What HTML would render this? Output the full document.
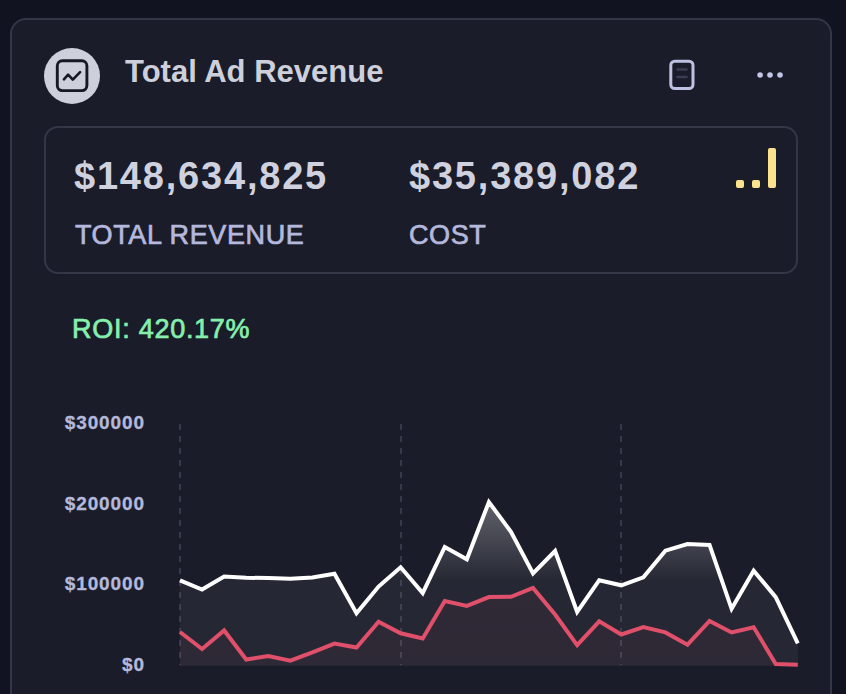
<!DOCTYPE html>
<html><head><meta charset="utf-8">
<style>
html,body{margin:0;padding:0;}
body{width:846px;height:694px;background:#111320;position:relative;overflow:hidden;font-family:"Liberation Sans",sans-serif;}
.card{position:absolute;left:10px;top:18px;width:818px;height:720px;border:2px solid #343648;border-radius:16px;background:#1a1c29;}
.abs{position:absolute;white-space:nowrap;}
.circle{left:44px;top:48px;width:56px;height:56px;border-radius:50%;background:#cdcfda;}
.title{left:125px;top:52px;font-size:31px;font-weight:bold;color:#cdcfdb;line-height:40px;}
.box{left:44px;top:126px;width:750px;height:144px;border:2px solid #343648;border-radius:14px;}
.num{font-size:38px;font-weight:bold;color:#d0d1de;letter-spacing:1.8px;line-height:40px;}
.lbl{font-size:27px;color:#b4b8dc;letter-spacing:0.6px;-webkit-text-stroke:0.7px #b4b8dc;line-height:30px;}
.roi{font-size:27px;letter-spacing:0.73px;-webkit-text-stroke:0.7px #86efac;color:#86efac;line-height:30px;}
.ylab{font-size:19px;font-weight:bold;color:#b4b8da;-webkit-text-stroke:0.3px #b4b8da;text-align:right;width:102px;letter-spacing:0.9px;line-height:20px;}
</style></head><body>
<div class="card"></div>
<div class="abs circle"></div>
<svg class="abs" style="left:44px;top:48px" width="56" height="56" viewBox="0 0 56 56">
<rect x="13.3" y="12.8" width="29.6" height="29.8" rx="5" fill="none" stroke="#161824" stroke-width="2.9"/>
<path d="M19.9 31.3 L24.1 26.7 L28.8 31.6 L36.1 24.1" fill="none" stroke="#161824" stroke-width="2.6" stroke-linecap="round" stroke-linejoin="round"/>
</svg>
<div class="abs title">Total Ad Revenue</div>
<svg class="abs" style="left:655px;top:50px" width="50" height="50" viewBox="0 0 50 50">
<rect x="15.8" y="11.2" width="22.2" height="27.3" rx="4" fill="none" stroke="#bfc1e2" stroke-width="3"/>
<line x1="22.5" y1="19.5" x2="31.5" y2="19.5" stroke="#3a3c52" stroke-width="2.6" stroke-linecap="round"/>
<line x1="22.5" y1="27" x2="31.5" y2="27" stroke="#3a3c52" stroke-width="2.6" stroke-linecap="round"/>
</svg>
<svg class="abs" style="left:745px;top:55px" width="50" height="40">
<circle cx="15.1" cy="20" r="2.8" fill="#c3c6e6"/>
<circle cx="25" cy="20" r="2.8" fill="#c3c6e6"/>
<circle cx="35" cy="20" r="2.8" fill="#c3c6e6"/>
</svg>
<div class="abs box"></div>
<div class="abs num" style="left:74px;top:156px">$148,634,825</div>
<div class="abs num" style="left:409px;top:156px">$35,389,082</div>
<div class="abs lbl" style="left:75px;top:220px">TOTAL REVENUE</div>
<div class="abs lbl" style="left:409px;top:220px">COST</div>
<div class="abs" style="left:736px;top:180px;width:8px;height:8px;border-radius:2px;background:#fbe38e"></div>
<div class="abs" style="left:752px;top:180px;width:8px;height:8px;border-radius:2px;background:#fbe38e"></div>
<div class="abs" style="left:768px;top:148px;width:8px;height:40px;border-radius:2px;background:#fbe38e"></div>
<div class="abs roi" style="left:72px;top:314px">ROI: 420.17%</div>
<div class="abs ylab" style="left:43px;top:413px">$300000</div>
<div class="abs ylab" style="left:43px;top:494px">$200000</div>
<div class="abs ylab" style="left:43px;top:574px">$100000</div>
<div class="abs ylab" style="left:43px;top:655px">$0</div>
<svg width="846" height="694" style="position:absolute;left:0;top:0">
<defs>
<linearGradient id="gw" x1="0" y1="0" x2="0" y2="1">
<stop offset="0%" stop-color="#ffffff" stop-opacity="0.31"/>
<stop offset="48%" stop-color="#ffffff" stop-opacity="0.05"/>
<stop offset="100%" stop-color="#ffffff" stop-opacity="0.05"/>
</linearGradient>
<linearGradient id="gr" x1="0" y1="0" x2="0" y2="1">
<stop offset="0%" stop-color="#e0506a" stop-opacity="0.06"/>
<stop offset="100%" stop-color="#e0506a" stop-opacity="0.045"/>
</linearGradient>
</defs>
<g stroke="#36384b" stroke-width="2" stroke-dasharray="6 6">
<line x1="180" y1="424" x2="180" y2="665"/>
<line x1="401" y1="424" x2="401" y2="665"/>
<line x1="621" y1="424" x2="621" y2="665"/>
</g>
<path d="M180.00,580.30 L202.06,589.50 L224.13,576.60 L246.19,577.70 L268.26,578.10 L290.32,578.80 L312.39,577.50 L334.45,573.80 L356.51,613.30 L378.58,586.60 L400.64,567.30 L422.71,593.00 L444.77,547.00 L466.84,559.30 L488.90,502.00 L510.96,531.80 L533.03,573.50 L555.09,551.00 L577.16,611.90 L599.22,580.20 L621.29,585.30 L643.35,577.30 L665.41,550.70 L687.48,544.00 L709.54,544.90 L731.61,608.80 L753.67,570.70 L775.74,597.20 L797.80,643.30 L797.80,665.8 L180.00,665.8 Z" fill="url(#gw)"/>
<path d="M180.00,632.00 L202.06,649.00 L224.13,630.50 L246.19,659.50 L268.26,656.00 L290.32,660.70 L312.39,652.30 L334.45,643.60 L356.51,647.50 L378.58,621.80 L400.64,633.30 L422.71,638.50 L444.77,601.00 L466.84,605.90 L488.90,597.10 L510.96,596.80 L533.03,588.00 L555.09,614.50 L577.16,645.10 L599.22,621.30 L621.29,634.50 L643.35,627.00 L665.41,632.40 L687.48,644.70 L709.54,621.00 L731.61,632.50 L753.67,627.20 L775.74,664.10 L797.80,664.80 L797.80,665.8 L180.00,665.8 Z" fill="url(#gr)"/>
<path d="M180.00,580.30 L202.06,589.50 L224.13,576.60 L246.19,577.70 L268.26,578.10 L290.32,578.80 L312.39,577.50 L334.45,573.80 L356.51,613.30 L378.58,586.60 L400.64,567.30 L422.71,593.00 L444.77,547.00 L466.84,559.30 L488.90,502.00 L510.96,531.80 L533.03,573.50 L555.09,551.00 L577.16,611.90 L599.22,580.20 L621.29,585.30 L643.35,577.30 L665.41,550.70 L687.48,544.00 L709.54,544.90 L731.61,608.80 L753.67,570.70 L775.74,597.20 L797.80,643.30" fill="none" stroke="#ffffff" stroke-width="4" stroke-linejoin="miter"/>
<path d="M180.00,632.00 L202.06,649.00 L224.13,630.50 L246.19,659.50 L268.26,656.00 L290.32,660.70 L312.39,652.30 L334.45,643.60 L356.51,647.50 L378.58,621.80 L400.64,633.30 L422.71,638.50 L444.77,601.00 L466.84,605.90 L488.90,597.10 L510.96,596.80 L533.03,588.00 L555.09,614.50 L577.16,645.10 L599.22,621.30 L621.29,634.50 L643.35,627.00 L665.41,632.40 L687.48,644.70 L709.54,621.00 L731.61,632.50 L753.67,627.20 L775.74,664.10 L797.80,664.80" fill="none" stroke="#e0506a" stroke-width="4" stroke-linejoin="miter"/>
</svg>
</body></html>
